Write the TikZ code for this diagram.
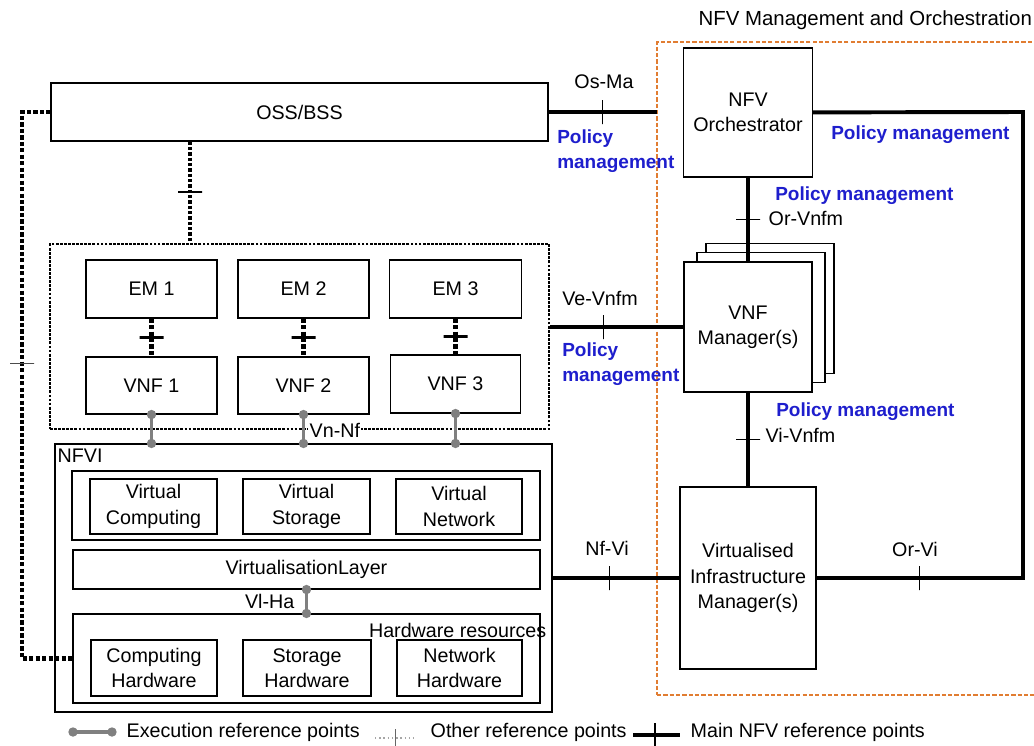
\documentclass[tikz,border=0pt]{standalone}
\usepackage{fontspec}
\setmainfont{Liberation Sans}
\usetikzlibrary{arrows.meta}
\definecolor{pmblue}{RGB}{30,30,205}
\definecolor{manoorange}{RGB}{225,125,50}
\definecolor{execgray}{RGB}{128,128,128}

\begin{document}
\begin{tikzpicture}[x=0.025cm,y=-0.025cm,
  every node/.style={font=\fontsize{14}{18}\selectfont},
  box/.style 2 args={draw,fill=white,line width=0.8pt,align=center,inner sep=0pt,minimum width=#1*0.025cm,minimum height=#2*0.025cm},
  lbl/.style={inner sep=1pt},
  pm/.style={text=pmblue,font=\fontsize{13.5}{17.7}\selectfont\bfseries,align=left,inner sep=0pt},
  mainline/.style={line width=2.8pt},
  dotline/.style={line width=3pt,dash pattern=on 3pt off 1.6pt},
  execline/.style={execgray,line width=2.2pt,{Circle[length=6.5pt]}-{Circle[length=6.5pt]},shorten <=-3.25pt,shorten >=-3.25pt},
  vtick/.style={draw,solid,line width=1pt,inner sep=0pt,minimum width=0pt,minimum height=24*0.025cm},
  htick/.style={draw,solid,line width=1pt,inner sep=0pt,minimum height=0pt,minimum width=24*0.025cm}]
  \useasboundingbox[fill=white] (0,0) rectangle (1034,745);

  \node[draw=manoorange,line width=1pt,dash pattern=on 3pt off 1.5pt,minimum width=383*0.025cm,minimum height=653*0.025cm] (mano) at (848.5,368.5) {};
  \node[lbl,anchor=west] (title) at (697,20) {\fontsize{14.5}{18}\selectfont NFV Management and Orchestration};

  \node[box={497}{58}] (oss) at (299.5,112) {OSS/BSS};

  \node[draw,line width=2pt,dash pattern=on 2pt off 0.9pt,minimum width=499*0.025cm,minimum height=185*0.025cm] (vnfdom) at (299.5,336.5) {};
  \node[box={131}{58}] (em1) at (151.5,289) {EM 1};
  \node[box={131}{58}] (em2) at (303.5,289) {EM 2};
  \node[box={132}{58}] (em3) at (455.5,289) {EM 3};
  \node[box={131}{57}] (vnf1) at (151.5,385.5) {VNF 1};
  \node[box={131}{57}] (vnf2) at (303.5,385.5) {VNF 2};
  \node[box={130}{58}] (vnf3) at (455.5,384) {VNF 3};

  \node[box={497}{268}] (nfvi) at (303.5,578) {};
  \node[lbl,anchor=north west] (nfvilbl) at (56,447) {NFVI};
  \node[box={468}{69}] (vres) at (306,505.5) {};
  \node[box={127}{55}] (vcomp) at (153.5,506.5) {Virtual\\Computing};
  \node[box={127}{55}] (vstor) at (306.5,506.5) {Virtual\\Storage};
  \node[box={126}{55}] (vnet) at (459,506.5) {Virtual\\Network};
  \node[box={467}{39}] (vlayer) at (306.5,569.5) {VirtualisationLayer};
  \node[box={467}{89}] (hw) at (306.5,658.5) {};
  \node[box={126}{56}] (chw) at (154,668) {Computing\\Hardware};
  \node[box={128}{56}] (shw) at (307,668) {Storage\\Hardware};
  \node[box={125}{56}] (nhw) at (459.5,668) {Network\\Hardware};
  \node[lbl,anchor=east] (hwlbl) at (548,630) {Hardware resources};

  \node[box={129}{129}] (orch) at (748,112.5) {NFV\\Orchestrator};
  \node[box={128}{130}] (vnfmc) at (770,308.5) {};
  \node[box={128}{130}] (vnfmb) at (761,317.5) {};
  \node[box={128}{130}] (vnfm) at (748,327) {VNF\\Manager(s)};
  \node[box={136}{182}] (vim) at (748,578) {Virtualised\\Infrastructure\\Manager(s)};

  \coordinate (osma) at (657,112);
  \coordinate (orr) at (1023,112);
  \coordinate (orb) at (1023,578);
  \coordinate (ossv) at (190,0);
  \coordinate (ltop) at (22,112);
  \coordinate (lbot) at (22,658.5);

  \draw[mainline] (oss) -- node[vtick]{} (osma);
  \draw[mainline] (orch) -- (orr) -- (orb) -- node[vtick]{} (vim);
  \draw[mainline] (orch) -- node[htick]{} (vnfm);
  \draw[mainline] (vnfm) -- node[htick]{} (vim);
  \draw[mainline] (vnfdom.east |- vnfm) -- node[vtick,pos=0.4]{} (vnfm);
  \draw[mainline] (nfvi) -- node[vtick,pos=0.45]{} (vim);

  \draw[dotline,line width=2.4pt,dash pattern=on 2.4pt off 1.4pt] (oss.south -| ossv) -- node[htick,line width=1.6pt]{} (vnfdom.north -| ossv);
  \draw[dotline] (em1) -- node[htick,line width=1.5pt]{} (vnf1);
  \draw[dotline] (em2) -- node[htick,line width=1.5pt]{} (vnf2);
  \draw[dotline] (em3) -- node[htick,line width=1.5pt]{} (vnf3);
  \draw[dotline] (oss.west) -- (ltop) -- node[htick,pos=0.46,line width=0.8pt,draw=black!70]{} (lbot) -- (hw.west);

  \draw[execline] (vnf1.south) -- (vnf1.south |- nfvi.north);
  \draw[execline] (vnf2.south) -- (vnf2.south |- nfvi.north);
  \draw[execline] (vnf3.south) -- (vnf3.south |- nfvi.north);
  \draw[execline] (vlayer) -- (hw);
  \node[lbl,fill=white,anchor=west] (vnnf) at (308,430) {Vn-Nf};

  \node[lbl] (osmalbl) at (604,82) {Os-Ma};
  \node[lbl,anchor=west] (orvnfmlbl) at (767,218) {Or-Vnfm};
  \node[lbl] (vevnfmlbl) at (600,298) {Ve-Vnfm};
  \node[lbl,anchor=west] (vivnfmlbl) at (764,435) {Vi-Vnfm};
  \node[lbl] (nfvilbl2) at (607,548) {Nf-Vi};
  \node[lbl] (orvilbl) at (915,549) {Or-Vi};
  \node[lbl,anchor=east] (vlhalbl) at (296,601) {Vl-Ha};

  \node[pm,anchor=west] (pm1) at (557,151) {Policy\\management};
  \node[pm,anchor=west] (pm2) at (831,135) {Policy management};
  \node[pm,anchor=west] (pm3) at (775,196) {Policy management};
  \node[pm,anchor=west] (pm4) at (562,364) {Policy\\management};
  \node[pm,anchor=west] (pm5) at (776,412) {Policy management};

  \coordinate (lga) at (73,732);
  \coordinate (lgb) at (112,732);
  \coordinate (lgc) at (375,738);
  \coordinate (lgd) at (416,738);
  \coordinate (lge) at (633,735);
  \coordinate (lgf) at (680,735);
  \draw[execline] (lga) -- (lgb);
  \node[lbl,anchor=west] (lgexec) at (125,732) {Execution reference points};
  \draw[execgray!70,line width=1pt,dotted] (lgc) -- node[vtick,draw=black!60,line width=0.8pt,minimum height=18*0.025cm]{} (lgd);
  \node[lbl,anchor=west] (lgother) at (429,732) {Other reference points};
  \draw[mainline] (lge) -- node[vtick,pos=0.47]{} (lgf);
  \node[lbl,anchor=west] (lgmain) at (689,732) {Main NFV reference points};
\end{tikzpicture}
\end{document}
